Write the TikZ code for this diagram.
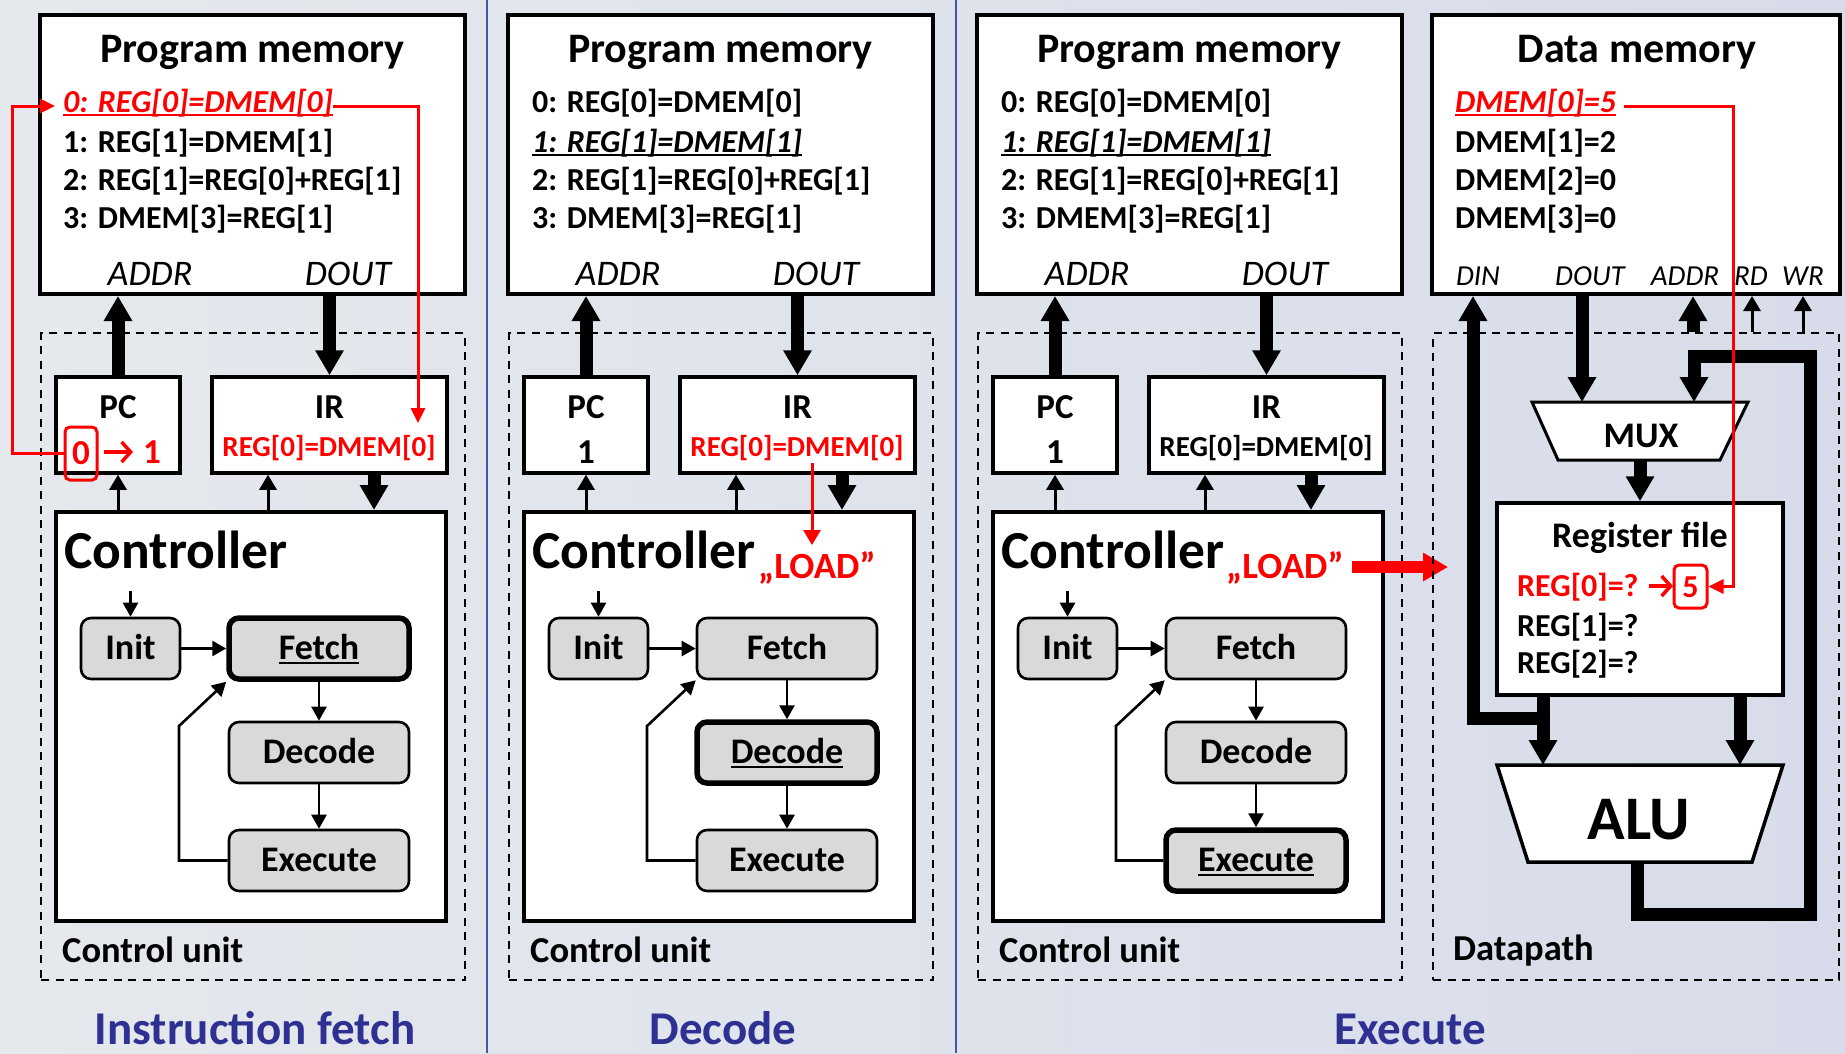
\documentclass[tikz,border=0pt]{standalone}
\usepackage{fontspec}
\setmainfont{Carlito}
\usetikzlibrary{arrows.meta}

\definecolor{stategray}{RGB}{217,217,217}
\definecolor{titleblue}{RGB}{46,49,146}
\definecolor{sepblue}{RGB}{72,84,170}
\definecolor{bgleft}{RGB}{229,233,237}
\definecolor{bgright}{RGB}{216,220,234}
\definecolor{sigred}{RGB}{255,0,0}

\newcommand\fsz[1]{\fontsize{#1}{#1}\selectfont}
% underline drawn as a rule of the text's width
\newcommand\myul[1]{\setbox0=\hbox{#1}\rlap{\rule[-0.13em]{\wd0}{0.075em}}\box0}

\tikzset{
  membox/.style={draw, line width=4pt, fill=white, inner sep=0pt},
  regbox/.style={draw, line width=3.5pt, fill=white, inner sep=0pt},
  ctlbox/.style={draw, line width=4pt, fill=white, inner sep=0pt},
  unitbox/.style={draw, line width=2.2pt, dash pattern=on 8pt off 6.5pt, inner sep=0pt},
  statebox/.style={draw, line width=2.6pt, fill=stategray, rounded corners=10pt,
    inner sep=0pt, minimum height=61, font=\fsz{36}\bfseries, text height=22.5pt, text depth=0pt},
  activestate/.style={line width=5.5pt},
  titlef/.style={inner sep=0pt, font=\fsz{42}\bfseries},
  linef/.style={inner sep=0pt, font=\fsz{32}\bfseries},
  portf/.style={inner sep=0pt, font=\fsz{36}\itshape},
  dmportf/.style={inner sep=0pt, font=\fsz{29}\itshape},
  regf/.style={inner sep=0pt, font=\fsz{35}\bfseries},
  irf/.style={inner sep=0pt, font=\fsz{29}\bfseries},
  ctlf/.style={inner sep=0pt, font=\fsz{53.5}\bfseries},
  loadf/.style={inner sep=0pt, font=\fsz{37}\bfseries, text=sigred},
  unitf/.style={inner sep=0pt, font=\fsz{36.5}\bfseries},
  headf/.style={inner sep=0pt, font=\fsz{47}\bfseries, text=titleblue},
  muxf/.style={inner sep=0pt, font=\fsz{36}\bfseries},
  aluf/.style={inner sep=0pt, font=\fsz{62}\bfseries},
  rff/.style={inner sep=0pt, font=\fsz{36}\bfseries},
  rlf/.style={inner sep=0pt, font=\fsz{32}\bfseries},
  busarrow/.style={line width=13pt, -{Triangle[width=27pt,length=25pt]}},
  ctlarrow/.style={line width=3pt, -{Triangle[width=17pt,length=15pt]}},
  fsmarrow/.style={line width=2.6pt, -{Triangle[width=15pt,length=14pt]}},
  redwire/.style={color=sigred, line width=3pt, -{Triangle[width=14pt,length=15pt]}},
  redbus/.style={color=sigred, line width=12pt, -{Triangle[width=27pt,length=25pt]}},
  redglyph/.style={color=sigred, line width=3.5pt, -{Straight Barb[length=9pt,width=20pt]}},
  redframe/.style={draw=sigred, line width=3pt, rounded corners=5pt, text=sigred,
    inner sep=0pt, text height=22pt, text depth=0pt},
}

% One control-unit panel: #1 name prefix, #2 horizontal offset,
% #3/#4 Fetch style/label, #5/#6 Decode style/label, #7/#8 Execute style/label
\newcommand\cpupanel[8]{%
\begin{scope}[xshift=#2]
  \node[unitbox, minimum width=424, minimum height=647] (#1cu) at (253,656.5) {};
  \node[unitf, anchor=base west] (#1cul) at (62,962) {Control unit};
  \node[membox, minimum width=425, minimum height=279] (#1pm) at (252.5,154.5) {};
  \node[titlef, anchor=base] (#1pmt) at (252.5,62) {Program memory};
  \node[portf, anchor=base] (#1addr) at (150,285) {ADDR};
  \node[portf, anchor=base] (#1dout) at (348,285) {DOUT};
  \node[regbox, minimum width=124, minimum height=96] (#1pc) at (118,425) {};
  \node[regf, anchor=base] (#1pcn) at (118,418) {PC};
  \node[regbox, minimum width=235, minimum height=96] (#1ir) at (329.5,425) {};
  \node[regf, anchor=base] (#1irn) at (329.5,418) {IR};
  \node[ctlbox, minimum width=390, minimum height=409] (#1ctl) at (251,716.5) {};
  \node[ctlf, anchor=base west] (#1ctln) at (64,568) {Controller};
  \node[statebox, minimum width=99] (#1init) at (130.5,648.5) {Init};
  \node[statebox, minimum width=180, #3] (#1fetch) at (319,648.5) {#4};
  \node[statebox, minimum width=180, #5] (#1dec) at (319,752.5) {#6};
  \node[statebox, minimum width=180, #7] (#1exe) at (319,860.5) {#8};
  \coordinate (#1start) at (130.5,591);
  \coordinate (#1bend) at (179,726);
  \coordinate (#1irin) at (268,0);
  \coordinate (#1irout) at (374,0);
  % state machine
  \draw[fsmarrow] (#1start) -- (#1init);
  \draw[fsmarrow] (#1init) -- (#1fetch);
  \draw[fsmarrow] (#1fetch) -- (#1dec);
  \draw[fsmarrow] (#1dec) -- (#1exe);
  \draw[fsmarrow] (#1exe.west) -| (#1bend) -- (#1fetch.south west);
  % buses and control lines
  \draw[busarrow] (#1pc.north) -- (#1pc.north |- #1pm.south);
  \draw[busarrow] (#1ir.north |- #1pm.south) -- (#1ir.north);
  \draw[ctlarrow] (#1pc.south |- #1ctl.north) -- (#1pc.south);
  \draw[ctlarrow] (#1irin |- #1ctl.north) -- (#1irin |- #1ir.south);
  \draw[busarrow] (#1irout |- #1ir.south) -- (#1irout |- #1ctl.north);
\end{scope}}

\begin{document}
\begin{tikzpicture}[x=1pt, y=-1pt, line join=miter]
  \useasboundingbox (0,0) rectangle (1845,1053);
  \shade[left color=bgleft, right color=bgright] (0,0) rectangle (1845,1053);
  \draw[sepblue, line width=2pt] (487,0) -- (487,1053);
  \draw[sepblue, line width=2pt] (956,0) -- (956,1053);

  % ---------- instruction fetch ----------
  \cpupanel{a}{0}{activestate}{\myul{Fetch}}{}{Decode}{}{Execute}
  \node[linef, anchor=base west, text=sigred, font=\fsz{32}\bfseries\itshape] (al0) at (63,112) {\myul{0: REG[0]=DMEM[0]}};
  \node[linef, anchor=base west] (al1) at (63,152) {1: REG[1]=DMEM[1]};
  \node[linef, anchor=base west] (al2) at (63,190) {2: REG[1]=REG[0]+REG[1]};
  \node[linef, anchor=base west] (al3) at (63,228) {3: DMEM[3]=REG[1]};
  \node[redframe, regf, minimum width=32, minimum height=53] (apcold) at (81,453.5) {0};
  \node[regf, anchor=base, text=sigred] (apcnew) at (152,463) {1};
  \node[irf, anchor=base, text=sigred] (airv) at (329,456) {REG[0]=DMEM[0]};
  \draw[redglyph] (104,452) -- (133,452);
  \coordinate (aw1) at (12,453.5);
  \coordinate (aw2) at (12,106);
  \coordinate (aw3) at (55,106);
  \coordinate (aw4) at (418,106);
  \coordinate (aw5) at (418,423);
  \draw[redwire] (apcold.west) -- (aw1) -- (aw2) -- (aw3);
  \draw[redwire] (al0.east |- aw4) -- (aw4) -- (aw5);
  \node[headf, anchor=base] (ttif) at (255,1044) {Instruction fetch};

  % ---------- decode ----------
  \cpupanel{b}{468}{}{Fetch}{activestate}{\myul{Decode}}{}{Execute}
  \begin{scope}[xshift=468]
    \node[linef, anchor=base west] (bl0) at (64,112) {0: REG[0]=DMEM[0]};
    \node[linef, anchor=base west, font=\fsz{32}\bfseries\itshape] (bl1) at (64,152) {\myul{1: REG[1]=DMEM[1]}};
    \node[linef, anchor=base west] (bl2) at (64,190) {2: REG[1]=REG[0]+REG[1]};
    \node[linef, anchor=base west] (bl3) at (64,228) {3: DMEM[3]=REG[1]};
    \node[regf, anchor=base] (bpcv) at (118,463) {1};
    \node[irf, anchor=base, text=sigred] (birv) at (329,456) {REG[0]=DMEM[0]};
    \node[loadf, anchor=base west] (bload) at (290,578) {„LOAD”};
    \coordinate (bw1) at (344,463);
    \coordinate (bw2) at (344,545);
    \draw[redwire, -{Triangle[width=17pt,length=15pt]}] (bw1) -- (bw2);
  \end{scope}
  \node[headf, anchor=base] (ttdec) at (723,1044) {Decode};

  % ---------- execute ----------
  \cpupanel{c}{937}{}{Fetch}{}{Decode}{activestate}{\myul{Execute}}
  \begin{scope}[xshift=937]
    \node[linef, anchor=base west] (cl0) at (64,112) {0: REG[0]=DMEM[0]};
    \node[linef, anchor=base west, font=\fsz{32}\bfseries\itshape] (cl1) at (64,152) {\myul{1: REG[1]=DMEM[1]}};
    \node[linef, anchor=base west] (cl2) at (64,190) {2: REG[1]=REG[0]+REG[1]};
    \node[linef, anchor=base west] (cl3) at (64,228) {3: DMEM[3]=REG[1]};
    \node[regf, anchor=base] (cpcv) at (118,463) {1};
    \node[irf, anchor=base] (cirv) at (329,456) {REG[0]=DMEM[0]};
    \node[loadf, anchor=base west] (cload) at (289,578) {„LOAD”};
  \end{scope}
  \coordinate (cloadtip) at (1448,567);
  \draw[redbus, shorten <=8pt] (cload.east |- cloadtip) -- (cloadtip);
  \node[headf, anchor=base] (ttexe) at (1410,1044) {Execute};

  % ---------- data memory and datapath ----------
  \node[unitbox, minimum width=406, minimum height=647] (dp) at (1636,656.5) {};
  \node[unitf, anchor=base west] (dpl) at (1453,960) {Datapath};
  \node[membox, minimum width=408, minimum height=279] (dm) at (1636,154.5) {};
  \node[titlef, anchor=base] (dmt) at (1637,62) {Data memory};
  \node[linef, anchor=base west, text=sigred, font=\fsz{32}\bfseries\itshape] (dl0) at (1455,112) {\myul{DMEM[0]=5}};
  \node[linef, anchor=base west] (dl1) at (1455,152) {DMEM[1]=2};
  \node[linef, anchor=base west] (dl2) at (1455,190) {DMEM[2]=0};
  \node[linef, anchor=base west] (dl3) at (1455,228) {DMEM[3]=0};
  \node[dmportf, anchor=base] (pdin) at (1478,285) {DIN};
  \node[dmportf, anchor=base] (pdout) at (1590,285) {DOUT};
  \node[dmportf, anchor=base] (paddr) at (1685,285) {ADDR};
  \node[dmportf, anchor=base] (prd) at (1751,285) {RD};
  \node[dmportf, anchor=base] (pwr) at (1803,285) {WR};

  % multiplexer
  \draw[line width=3pt, fill=white] (1532,402) -- (1748,402) -- (1720,460) -- (1558,460) -- cycle;
  \node[muxf, anchor=base] (muxl) at (1641,447) {MUX};
  \coordinate (muxa) at (1582,402);
  \coordinate (muxb) at (1694,402);
  \coordinate (muxo) at (1640,460);

  % register file
  \node[regbox, minimum width=286, minimum height=192] (rf) at (1640,599) {};
  \node[rff, anchor=base] (rft) at (1640,547) {Register file};
  \node[rlf, anchor=base west, text=sigred] (r0) at (1517,596) {REG[0]=?};
  \node[rlf, anchor=base west] (r1) at (1517,636) {REG[1]=?};
  \node[rlf, anchor=base west] (r2) at (1517,673) {REG[2]=?};
  \node[redframe, rlf, minimum width=33, minimum height=43] (r5) at (1690.5,586.5) {5};
  \draw[redglyph] (1649,586) -- (1673,586);

  % ALU
  \draw[line width=3.5pt, fill=white] (1497,765) -- (1783,765) -- (1752,862) -- (1528,862) -- cycle;
  \node[aluf, anchor=base] (alul) at (1639,839) {ALU};
  \coordinate (alua) at (1543,765);
  \coordinate (alub) at (1740,765);
  \coordinate (aluo) at (1637,862);

  % datapath buses
  \coordinate (dinj) at (1543,718);
  \coordinate (dinc) at (1473,718);
  \coordinate (loop1) at (1810,914);
  \coordinate (loop2) at (1694,356);
  \coordinate (addrx) at (1693,0);
  \coordinate (rdx) at (1752,0);
  \coordinate (wrx) at (1803,0);
  \draw[busarrow] (dm.south -| muxa) -- (muxa);
  \draw[busarrow] (muxo) -- (rf.north);
  \draw[busarrow] (rf.south -| alua) -- (alua);
  \draw[busarrow] (rf.south -| alub) -- (alub);
  \draw[busarrow] (dinj) -- (dinc) -- (dinc |- dm.south);
  \draw[busarrow] (aluo) |- (loop1) |- (loop2) -- (muxb);
  \draw[busarrow] (dp.north -| addrx) -- (dm.south -| addrx);
  \draw[ctlarrow] (dp.north -| rdx) -- (dm.south -| rdx);
  \draw[ctlarrow] (dp.north -| wrx) -- (dm.south -| wrx);

  % value written into REG[0]
  \coordinate (dw1) at (1733,106);
  \draw[redwire, shorten <=8pt] (dl0.east |- dw1) -- (dw1) -- (dw1 |- r5) -- (r5.east);
\end{tikzpicture}
\end{document}
